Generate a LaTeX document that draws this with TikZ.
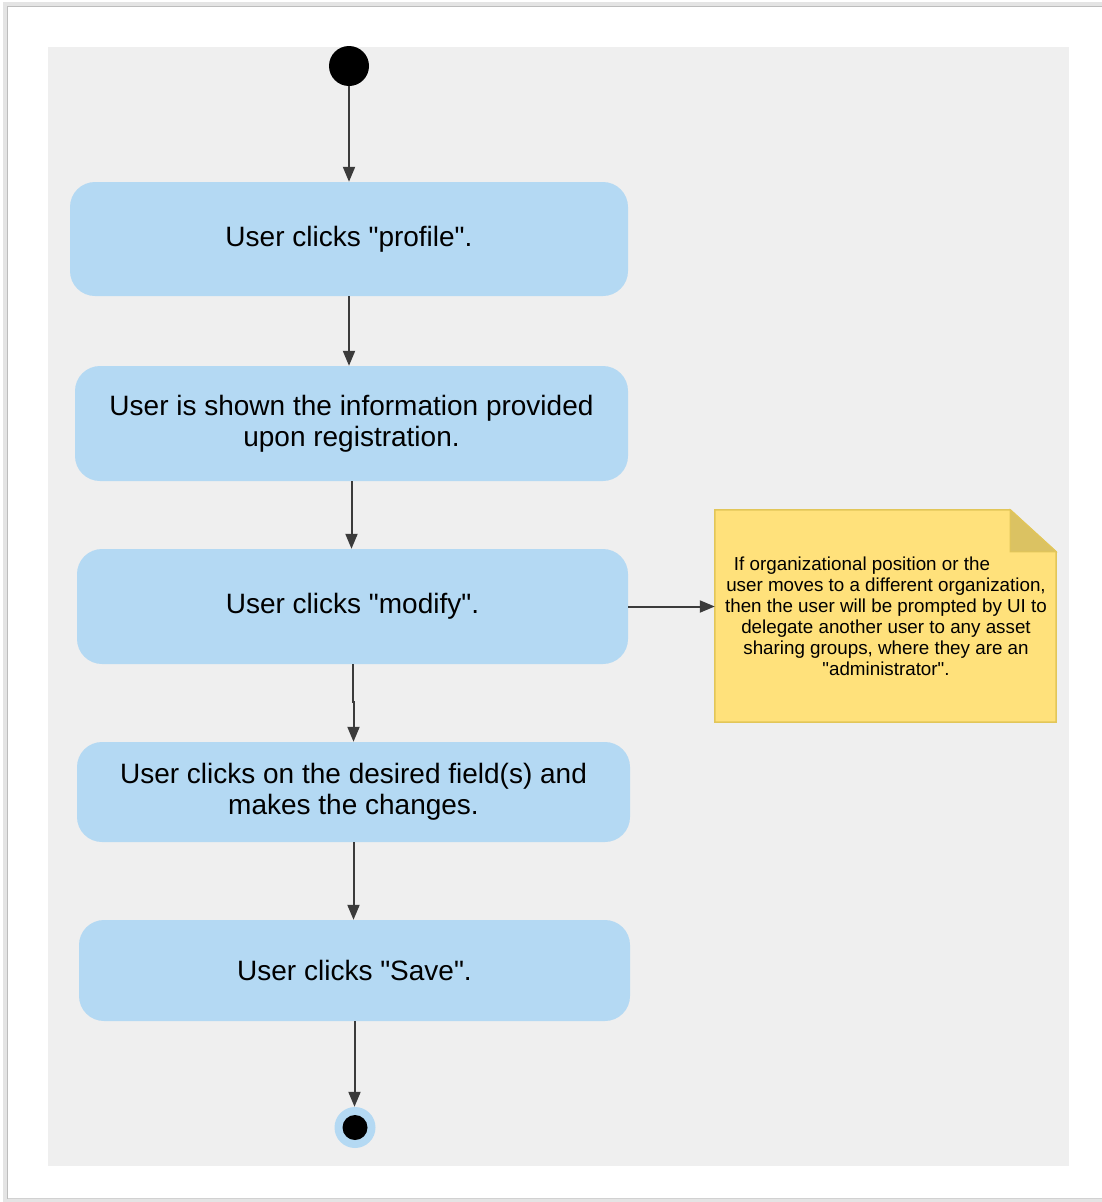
\documentclass[tikz,border=0pt]{standalone}
\usepackage{fontspec}
\setmainfont{Liberation Sans}
\usetikzlibrary{arrows.meta}
\newcommand\dq{\textquotedbl}
\definecolor{panel}{HTML}{EFEFEF}
\definecolor{boxblue}{HTML}{B4D9F3}
\definecolor{arrowgray}{HTML}{3B3B3B}
\definecolor{notefill}{HTML}{FFE17B}
\definecolor{notefold}{HTML}{DBC262}
\definecolor{noteborder}{HTML}{E2C659}
\definecolor{shadowgray}{HTML}{BDBDBD}
\begin{document}
\begin{tikzpicture}[x=1pt,y=-1pt,
  actbox/.style={rectangle, rounded corners=25pt, fill=boxblue, draw=none,
    align=center, inner sep=0pt,
    font=\fontsize{28}{31}\selectfont},
  flow/.style={draw=arrowgray, line width=2pt, -{Triangle[length=15pt,width=12pt]}},
]
% canvas
\useasboundingbox (0,0) rectangle (1102,1202);
\fill[white] (0,0) rectangle (1102,1202);
% page shadow
\draw[shadowgray!40, line width=5pt] (5.5,1202) -- (5.5,4.5) -- (1102,4.5);
\draw[shadowgray!40, line width=5pt] (5.5,1200.5) -- (1102,1200.5);
\draw[shadowgray, line width=1.5pt] (7.5,1198.5) -- (7.5,6.5) -- (1102,6.5);
\draw[shadowgray!70, line width=1.5pt] (7.5,1198.5) -- (1102,1198.5);
% gray panel
\fill[panel] (48,47) rectangle (1069,1166);

% start
\node[circle, fill=black, minimum size=40pt, inner sep=0pt] (start) at (349,66) {};

% activities
\node[actbox, minimum width=558pt, minimum height=114pt] (b1) at (349,239)
  {User clicks \dq profile\dq.};
\node[actbox, minimum width=553pt, minimum height=115pt] (b2) at (351.5,423.5)
  {User is shown the information provided\\upon registration.};
\node[actbox, minimum width=551pt, minimum height=115pt] (b3) at (352.5,606.5)
  {User clicks \dq modify\dq.};
\node[actbox, minimum width=553pt, minimum height=100pt] (b4) at (353.5,792)
  {User clicks on the desired field(s) and\\makes the changes.};
\node[actbox, minimum width=551pt, minimum height=101pt] (b5) at (354.5,970.5)
  {User clicks \dq Save\dq.};

% end
\node[circle, fill=boxblue, minimum size=41pt, inner sep=0pt] (end) at (355,1127.5) {};
\node[circle, fill=black, minimum size=25pt, inner sep=0pt] (endin) at (end.center) {};

% note
\node[rectangle, minimum width=341pt, minimum height=212pt, inner sep=0pt] (note) at (885.5,616) {};
\filldraw[fill=notefill, draw=noteborder, line width=1.5pt]
  (note.north west) -- ([xshift=-46pt]note.north east) -- ([yshift=-42pt]note.north east)
  -- (note.south east) -- (note.south west) -- cycle;
\filldraw[fill=notefold, draw=noteborder, line width=1pt]
  ([xshift=-46pt]note.north east) -- ([xshift=-46pt,yshift=-42pt]note.north east)
  -- ([yshift=-42pt]note.north east) -- cycle;
\node[align=center, inner sep=0pt, font=\fontsize{18.8}{21}\selectfont] (notetext) at (886,616.5)
  {If organizational position or the\hspace*{48pt}\\
   user moves to a different organization,\\
   then the user will be prompted by UI to\\
   delegate another user to any asset\\
   sharing groups, where they are an\\
   \dq administrator\dq.};

% connectors
\draw[flow] (start) -- (b1.north);
\draw[flow] (b1.south) -- (b1.south |- b2.north);
\draw[flow] (b2.south) -- (b2.south |- b3.north);
\draw[flow] (b3.south) -- ++(0,38) -| (b4.north);
\draw[flow] (b4.south) -- (b4.south |- b5.north);
\draw[flow] (b5.south) -- (b5.south |- end.north);
\draw[flow] (b3.east) -- (b3.east -| note.west);
\end{tikzpicture}
\end{document}
